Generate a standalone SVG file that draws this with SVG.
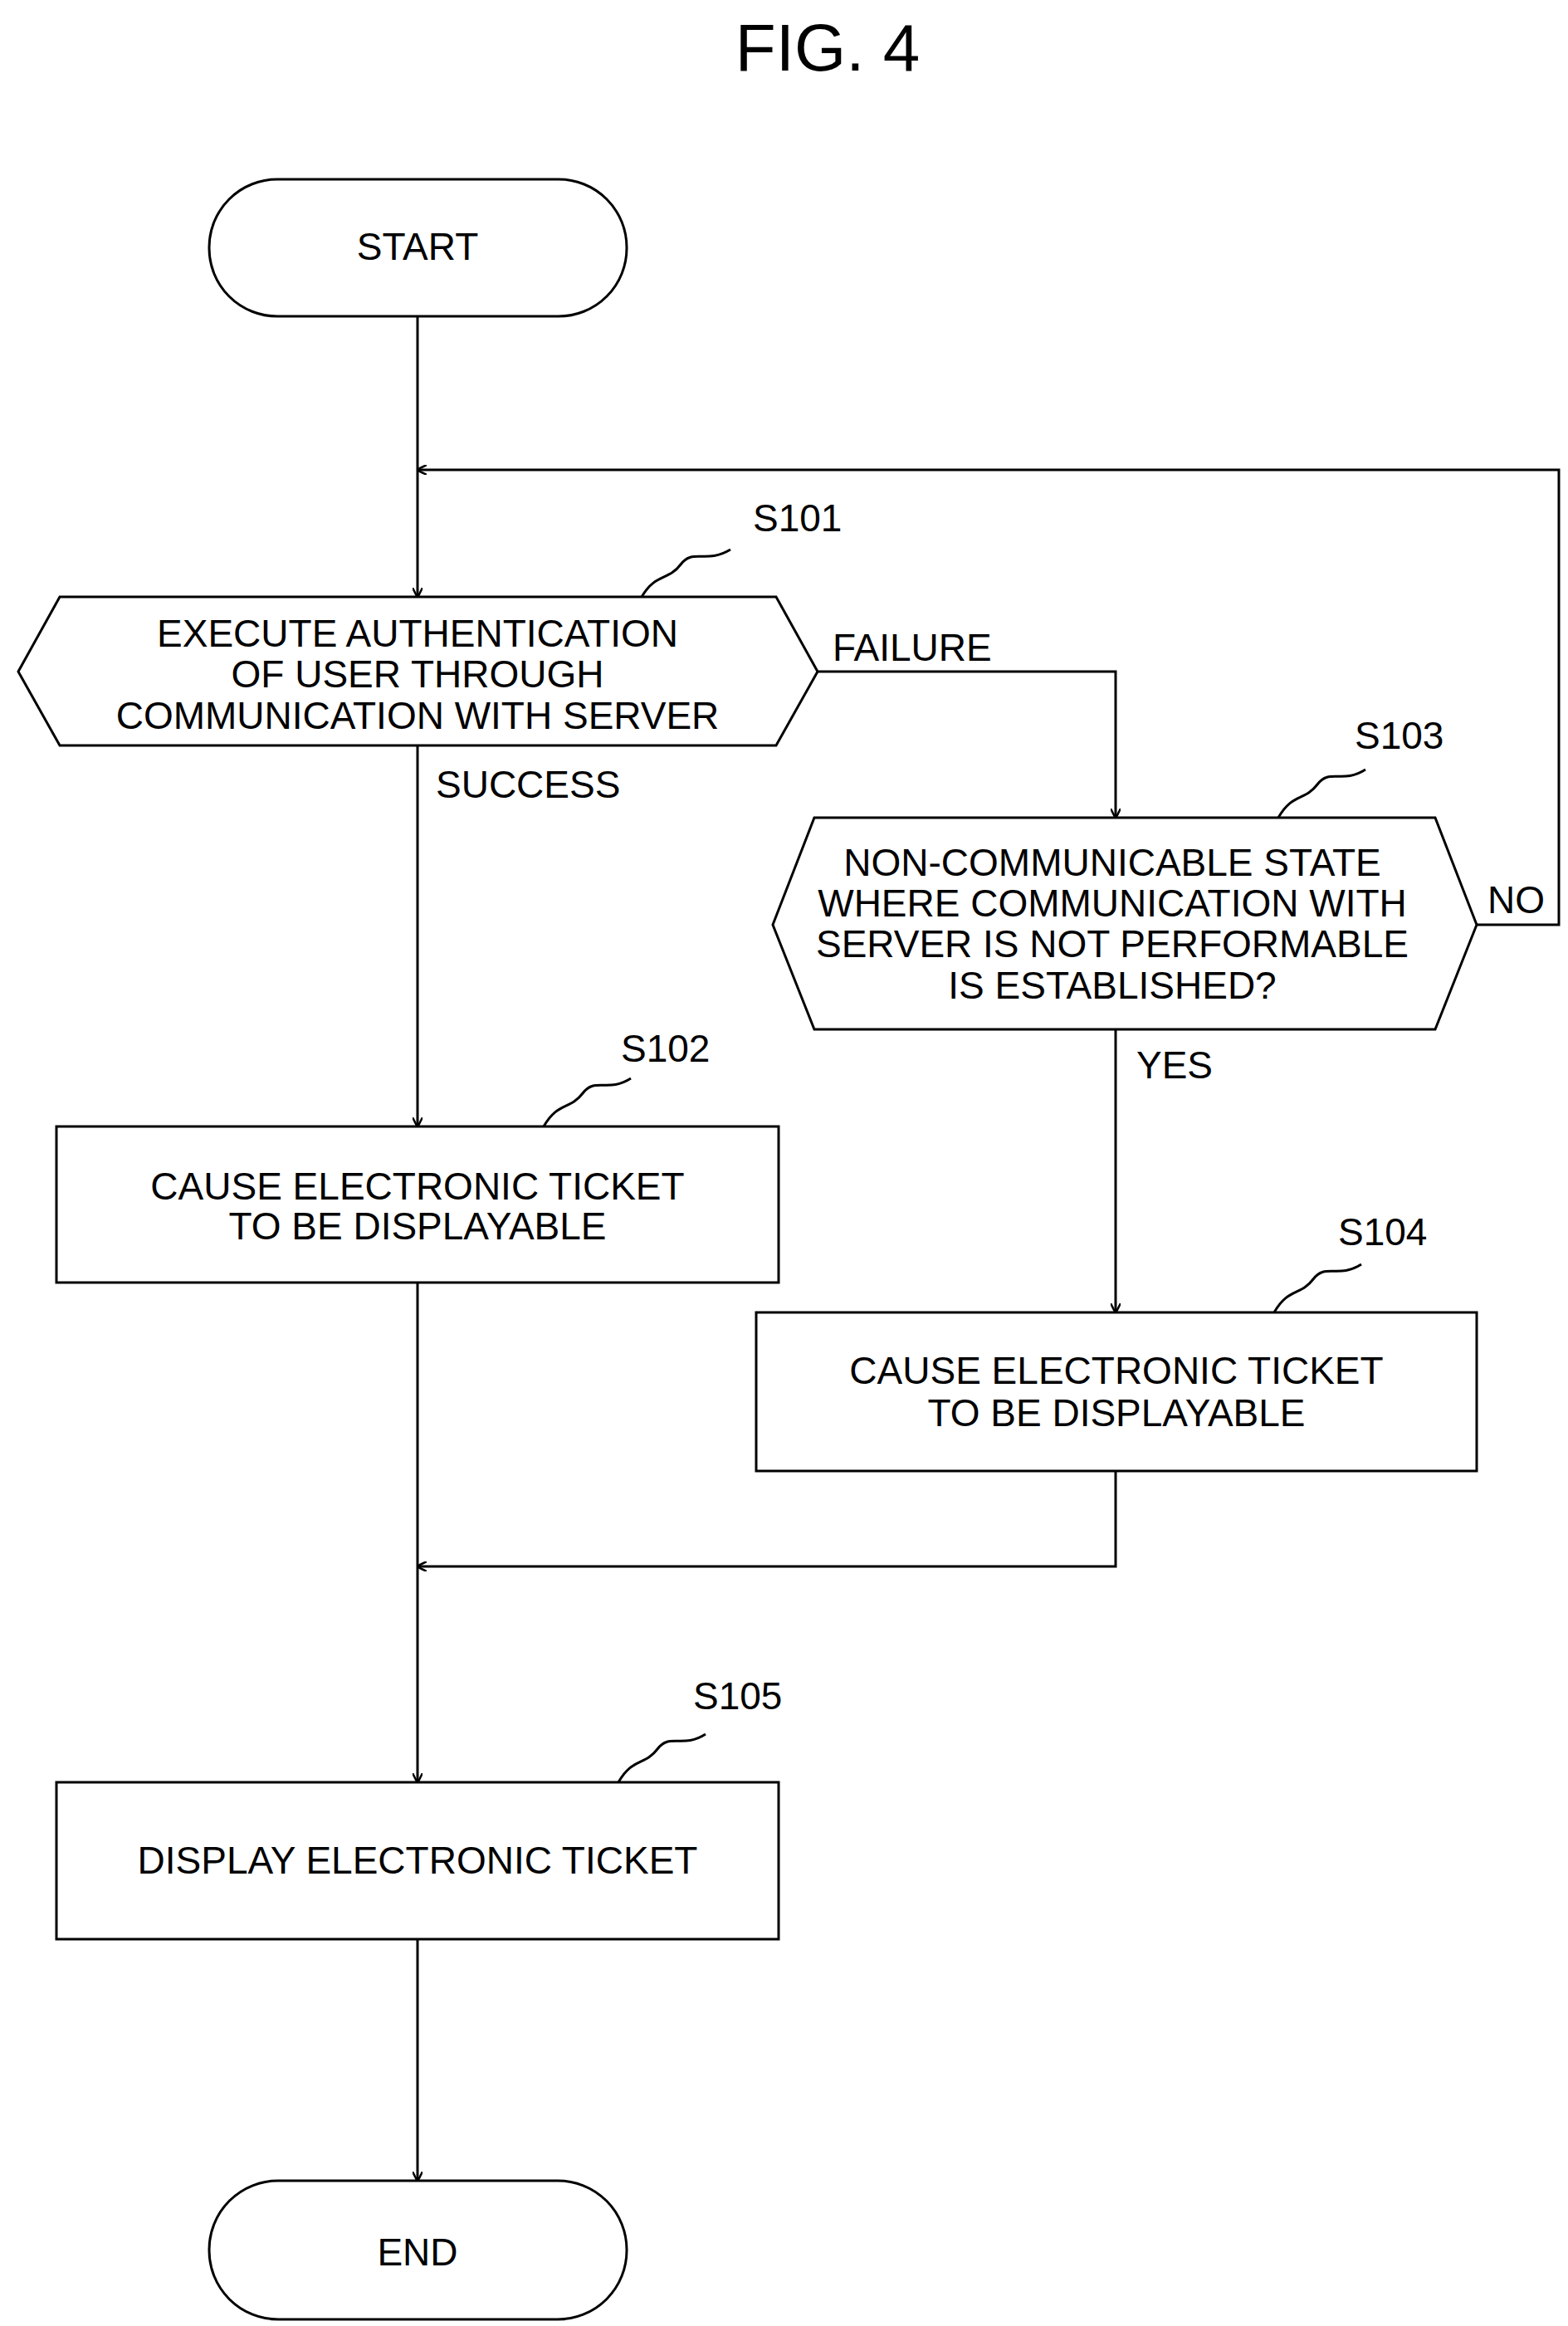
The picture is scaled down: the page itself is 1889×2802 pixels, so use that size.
<svg xmlns="http://www.w3.org/2000/svg" width="1889" height="2802" viewBox="0 0 1889 2802">
<style>
.s{fill:none;stroke:#000;stroke-width:3}
.t{font-family:"Liberation Sans",Arial,sans-serif;font-size:46px;text-anchor:middle;fill:#000}
.l{font-family:"Liberation Sans",Arial,sans-serif;font-size:46px;fill:#000}
.c{fill:none;stroke:#000;stroke-width:3}
</style>
<defs><marker id="a" markerWidth="12" markerHeight="12" refX="11" refY="6" orient="auto" markerUnits="userSpaceOnUse"><path d="M0,0 L12,6 L0,12" fill="none" stroke="#000" stroke-width="2.5"/></marker></defs>
<rect width="1889" height="2802" fill="#fff"/>
<text x="997" y="85" class="t" style="font-size:80px">FIG. 4</text>
<g id="start"><rect x="252" y="216" width="503" height="165" rx="82" class="s"/><text x="503" y="313" class="t">START</text></g>
<g id="s101"><path d="M22,809 L72,719 L935,719 L985,809 L935,898 L72,898 Z" class="s"/>
<text x="503" y="779" class="t">EXECUTE AUTHENTICATION</text><text x="503" y="828" class="t">OF USER THROUGH</text><text x="503" y="878" class="t">COMMUNICATION WITH SERVER</text>
<text x="907" y="640" class="l">S101</text><path d="M773,719 C790,690 805,700 820,680 C835,660 850,680 880,662" class="c"/></g>
<g id="s103"><path d="M931,1114 L981,985 L1729,985 L1779,1114 L1729,1240 L981,1240 Z" class="s"/>
<text x="1340" y="1055" class="t">NON-COMMUNICABLE STATE</text><text x="1340" y="1104" class="t">WHERE COMMUNICATION WITH</text><text x="1340" y="1153" class="t">SERVER IS NOT PERFORMABLE</text><text x="1340" y="1203" class="t">IS ESTABLISHED?</text>
<text x="1632" y="902" class="l">S103</text><path d="M1540,985 C1557,955 1572,965 1587,945 C1602,925 1617,945 1645,927" class="c"/></g>
<g id="s102"><rect x="68" y="1357" width="870" height="188" class="s"/>
<text x="503" y="1445" class="t">CAUSE ELECTRONIC TICKET</text><text x="503" y="1493" class="t">TO BE DISPLAYABLE</text>
<text x="748" y="1279" class="l">S102</text><path d="M655,1357 C672,1327 687,1337 702,1317 C717,1297 732,1317 760,1299" class="c"/></g>
<g id="s104"><rect x="911" y="1581" width="868" height="191" class="s"/>
<text x="1345" y="1667" class="t">CAUSE ELECTRONIC TICKET</text><text x="1345" y="1718" class="t">TO BE DISPLAYABLE</text>
<text x="1612" y="1500" class="l">S104</text><path d="M1535,1581 C1552,1551 1567,1561 1582,1541 C1597,1521 1612,1541 1640,1523" class="c"/></g>
<g id="s105"><rect x="68" y="2147" width="870" height="189" class="s"/>
<text x="503" y="2257" class="t">DISPLAY ELECTRONIC TICKET</text>
<text x="835" y="2059" class="l">S105</text><path d="M745,2147 C762,2117 777,2127 792,2107 C807,2087 822,2107 850,2089" class="c"/></g>
<g id="end"><rect x="252" y="2627" width="503" height="167" rx="83" class="s"/><text x="503" y="2729" class="t">END</text></g>
<g id="connectors">
<path d="M503,381 V719" class="c" marker-end="url(#a)"/>
<path d="M1779,1114 H1878 V566 H503" class="c" marker-end="url(#a)"/>
<path d="M985,809 H1344 V985" class="c" marker-end="url(#a)"/>
<path d="M503,898 V1357" class="c" marker-end="url(#a)"/>
<path d="M1344,1240 V1581" class="c" marker-end="url(#a)"/>
<path d="M1344,1772 V1887 H503" class="c" marker-end="url(#a)"/>
<path d="M503,1545 V2147" class="c" marker-end="url(#a)"/>
<path d="M503,2336 V2627" class="c" marker-end="url(#a)"/>
<text x="1003" y="796" class="l">FAILURE</text>
<text x="525" y="961" class="l">SUCCESS</text>
<text x="1792" y="1100" class="l">NO</text>
<text x="1369" y="1299" class="l">YES</text>
</g>
</svg>
